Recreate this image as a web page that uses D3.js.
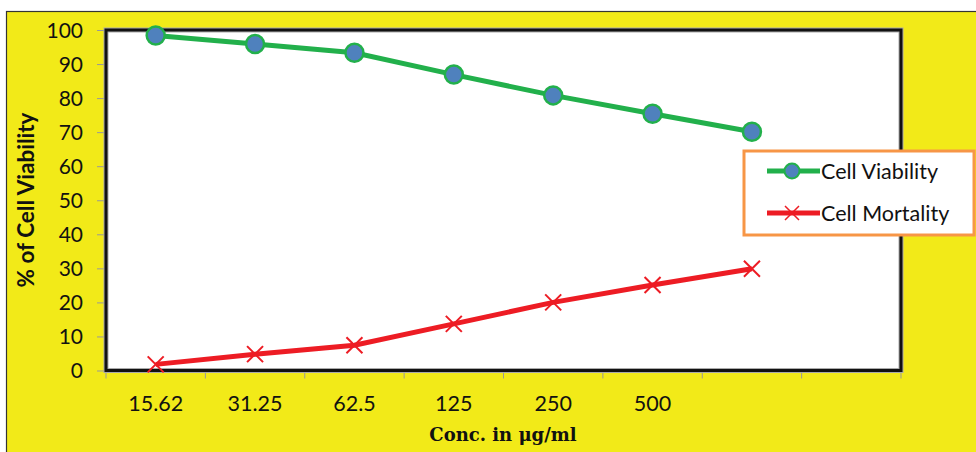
<!DOCTYPE html>
<html>
<head>
<meta charset="utf-8">
<script src="https://cdn.jsdelivr.net/npm/d3@7"></script>
<style>
  body { margin:0; background:#fff; }
  svg { display:block; }
</style>
</head>
<body>
<div class="canvas"></div>
<script>
// chart values
const concLabels = ["15.62", "31.25", "62.5", "125", "250", "500", "", ""]
const viability = [98.4, 95.9, 93.3, 86.9, 80.8, 75.4, 70.1]
const mortality = [1.8, 4.8, 7.4, 13.7, 20, 25.1, 29.9]
const yTicks = [0, 10, 20, 30, 40, 50, 60, 70, 80, 90, 100]
const seriesNames = ["Cell Viability", "Cell Mortality"]

let dim = { width:976, height:452 }
let svg = d3.select(".canvas").append("svg").attr("width", dim.width).attr("height", dim.height)

// yellow background with dark edge
svg.append("rect").attr("x", 6.5).attr("y", 11.5).attr("width", dim.width).attr("height", dim.height)
  .attr("fill", "#f2ea18").attr("stroke", "#333").attr("stroke-width", 1.2)

let plot = { left:106, top:30, right:901, bottom:370.5 }
const font = "Lato, 'Open Sans', sans-serif"

const x = d3.scaleBand().domain(d3.range(concLabels.length)).range([plot.left, plot.right])
const y = d3.scaleLinear().domain([0, 100]).range([plot.bottom, plot.top])

// plot area
svg.append("rect").attr("x", plot.left).attr("y", plot.top)
  .attr("width", plot.right - plot.left).attr("height", plot.bottom - plot.top)
  .attr("fill", "#fff")

// y axis
let yAxis = svg.append("g").attr("transform", `translate(${plot.left},0)`)
  .call(d3.axisLeft(y).tickValues(yTicks).tickSize(9).tickPadding(14))
yAxis.select(".domain").remove()
yAxis.selectAll(".tick line").attr("stroke", "#999")
yAxis.selectAll("text").attr("font-family", font).attr("font-size", 21).attr("fill", "#111")
  .attr("dy", "0.35em")

// x axis: ticks on band edges
let xAxis = svg.append("g").attr("transform", `translate(0,${plot.bottom})`)
let edges = d3.range(concLabels.length + 1).map(i => plot.left + i * x.step())
xAxis.selectAll("line.tk").data(edges).join("line").attr("class", "tk")
  .attr("x1", d => d).attr("x2", d => d).attr("y1", 0).attr("y2", 8)
  .attr("stroke", "#999")
xAxis.selectAll("text").data(concLabels).join("text")
  .attr("x", (d, i) => x(i) + x.bandwidth() / 2).attr("y", 40)
  .attr("text-anchor", "middle")
  .attr("font-family", font).attr("font-size", 21.5).attr("fill", "#111")
  .text(d => d)

// plot frame
const frame = `M${plot.left},${plot.bottom} V${plot.top} H${plot.right} V${plot.bottom} Z`
svg.append("path").attr("d", frame)
  .attr("fill", "none").attr("stroke", "#aaa").attr("stroke-width", 5)
svg.append("path").attr("d", frame)
  .attr("fill", "none").attr("stroke", "#111").attr("stroke-width", 3)

// axis titles
svg.append("text").attr("transform", `translate(34,200) rotate(-90)`)
  .attr("text-anchor", "middle").attr("font-family", font)
  .attr("font-weight", "bold").attr("font-size", 22.5).attr("fill", "#111")
  .text("% of Cell Viability")
svg.append("text").attr("x", 503).attr("y", 441)
  .attr("text-anchor", "middle").attr("font-family", "'DejaVu Serif', 'Liberation Serif', serif")
  .attr("font-weight", "bold").attr("font-size", 18).attr("fill", "#111")
  .text("Conc. in μg/ml")

const cx = (d, i) => x(i) + x.bandwidth() / 2
const line = d3.line().x(cx).y(d => y(d))

const green = "#22b04b", blue = "#4f81bd", red = "#ed1c24"

// viability
svg.append("path").datum(viability).attr("d", line)
  .attr("fill", "none").attr("stroke", green).attr("stroke-width", 5)
svg.selectAll("circle.via").data(viability).join("circle").attr("class", "via")
  .attr("cx", cx).attr("cy", d => y(d)).attr("r", 9)
  .attr("fill", blue).attr("stroke", green).attr("stroke-width", 2.5)

// mortality
svg.append("path").datum(mortality).attr("d", line)
  .attr("fill", "none").attr("stroke", red).attr("stroke-width", 5)
const cross = (px, py, s) => `M${px - s},${py - s}L${px + s},${py + s}M${px - s},${py + s}L${px + s},${py - s}`
svg.selectAll("path.mort").data(mortality).join("path").attr("class", "mort")
  .attr("d", (d, i) => cross(cx(d, i), y(d), 8))
  .attr("stroke", red).attr("stroke-width", 2).attr("fill", "none")

// legend
let legend = svg.append("g")
legend.append("rect").attr("x", 744).attr("y", 151).attr("width", 230).attr("height", 84)
  .attr("fill", "#fff").attr("stroke", "#f79646").attr("stroke-width", 3)
const rows = [171, 213]
seriesNames.forEach((name, i) => {
  let yy = rows[i]
  let col = i === 0 ? green : red
  legend.append("line").attr("x1", 767).attr("x2", 820).attr("y1", yy).attr("y2", yy)
    .attr("stroke", col).attr("stroke-width", 5)
  if (i === 0) {
    legend.append("circle").attr("cx", 792).attr("cy", yy).attr("r", 7.5)
      .attr("fill", blue).attr("stroke", green).attr("stroke-width", 2)
  } else {
    legend.append("path").attr("d", cross(792, yy, 7)).attr("stroke", red).attr("stroke-width", 1.5)
  }
  legend.append("text").attr("x", 821).attr("y", yy).attr("dy", "0.35em")
    .attr("font-family", font).attr("font-size", 21.5).attr("fill", "#111")
    .text(name)
})
</script>
</body>
</html>
